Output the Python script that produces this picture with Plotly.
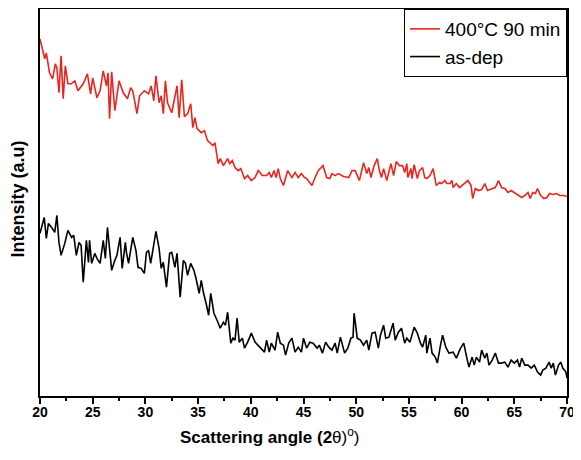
import plotly.graph_objects as go

# 400C 90 min anneal (red)
red_x = [20.0, 20.45, 20.6, 20.9, 21.2, 21.45, 21.6, 21.8, 22.0, 22.2,
         22.4, 22.65, 22.97, 23.3, 23.6, 24.1, 24.5, 24.8, 25.0, 25.4,
         25.7, 26.0, 26.3, 26.45, 26.6, 26.8, 27.1, 27.5, 27.9, 28.3,
         28.6, 28.8, 29.2, 29.45, 29.9, 30.3, 30.55, 30.8, 31.0, 31.3,
         31.5, 31.7, 31.9, 32.1, 32.5, 32.8, 33.0, 33.2, 33.45, 33.7,
         34.0, 34.3, 34.5, 34.7, 34.9, 35.3, 35.6, 35.9, 36.4, 36.6,
         36.9, 37.1, 37.4, 37.8, 38.0, 38.25, 38.5, 38.8, 39.05, 39.4,
         39.7, 40.05, 40.4, 40.7, 41.1, 41.5, 41.75, 41.95, 42.2, 42.4,
         42.6, 42.8, 43.1, 43.5, 43.9, 44.2, 44.5, 44.8, 45.1, 45.3,
         45.8, 46.1, 46.4, 46.85, 47.2, 47.5, 47.7, 48.0, 48.3, 48.8,
         49.3, 49.6, 49.9, 50.3, 50.7, 51.0, 51.2, 51.4, 51.7, 52.0,
         52.2, 52.4, 52.6, 52.9, 53.1, 53.3, 53.55, 53.8, 54.1, 54.4,
         54.6, 54.8, 54.9, 55.2, 55.3, 55.5, 55.8, 56.0, 56.3, 56.5,
         56.7, 57.0, 57.3, 57.6, 57.9, 58.1, 58.4, 58.6, 58.9, 59.1,
         59.2, 59.5, 59.8, 60.05, 60.3, 60.6, 60.9, 61.05, 61.3, 61.6,
         61.9, 62.2, 62.45, 62.85, 63.2, 63.5, 63.8, 64.1, 64.4, 64.7,
         65.1, 65.4, 65.7, 66.0, 66.3, 66.5, 66.75, 67.0, 67.2, 67.5,
         67.8, 68.1, 68.35, 68.7, 69.0, 69.3, 69.7, 70.0]
red_y = [362, 342, 348, 328, 322, 337, 333, 308, 345, 302,
         335, 317, 317, 320, 310, 317, 327, 307, 323, 303,
         310, 330, 315, 328, 282, 329, 290, 320, 308, 302,
         313, 310, 287, 305, 310, 307, 315, 300, 325, 298,
         305, 287, 320, 298, 288, 303, 315, 283, 321, 284,
         287, 297, 273, 283, 272, 268, 270, 260, 255, 258,
         237, 242, 235, 242, 237, 240, 233, 230, 232, 222,
         225, 220, 223, 230, 225, 225, 228, 223, 230, 223,
         232, 222, 215, 230, 223, 228, 223, 227, 223, 222,
         215, 223, 230, 235, 223, 222, 227, 225, 227, 224,
         223, 230, 230, 220, 238, 227, 233, 223, 235, 242,
         230, 223, 232, 220, 230, 237, 225, 239, 235, 235,
         228, 237, 223, 232, 222, 236, 222, 230, 233, 223,
         222, 225, 232, 215, 218, 217, 220, 217, 217, 220,
         213, 217, 213, 215, 217, 220, 215, 202, 212, 210,
         211, 217, 210, 212, 213, 220, 213, 212, 208, 210,
         207, 205, 203, 205, 208, 202, 208, 207, 212, 205,
         202, 203, 207, 206, 207, 205, 205, 204]

# as-deposited (black)
blk_x = [20.0, 20.2, 20.4, 20.6, 20.8, 21.1, 21.4, 21.6, 21.8, 22.0,
         22.35, 22.65, 23.0, 23.2, 23.45, 23.7, 23.9, 24.1, 24.4, 24.6,
         24.7, 24.9, 25.2, 25.4, 25.7, 26.0, 26.2, 26.4, 26.6, 26.8,
         27.1, 27.3, 27.6, 27.8, 28.1, 28.2, 28.4, 28.8, 29.1, 29.3,
         29.6, 29.9, 30.1, 30.3, 30.5, 30.7, 31.0, 31.3, 31.5, 31.7,
         32.0, 32.3, 32.5, 32.8, 33.0, 33.3, 33.6, 33.8, 34.0, 34.3,
         34.6, 34.8, 35.1, 35.3, 35.5, 35.8, 36.0, 36.2, 36.5, 36.8,
         37.1, 37.4, 37.6, 37.8, 38.1, 38.3, 38.5, 38.7, 38.9, 39.2,
         39.4, 39.7, 40.05, 40.4, 40.7, 41.0, 41.3, 41.5, 41.75, 41.95,
         42.3, 42.55, 42.8, 43.1, 43.3, 43.6, 43.9, 44.2, 44.5, 44.8,
         45.0, 45.3, 45.6, 45.9, 46.3, 46.5, 46.8, 47.1, 47.4, 47.7,
         48.0, 48.2, 48.5, 48.9, 49.2, 49.5, 49.7, 49.8, 50.1, 50.4,
         50.7, 51.0, 51.2, 51.5, 51.8, 52.1, 52.3, 52.6, 52.8, 53.1,
         53.5, 53.7, 54.0, 54.3, 54.6, 54.8, 55.1, 55.5, 55.8, 56.1,
         56.3, 56.6, 56.7, 57.0, 57.2, 57.5, 57.7, 58.0, 58.2, 58.5,
         58.8, 59.2, 59.5, 59.9, 60.2, 60.5, 60.7, 61.0, 61.2, 61.4,
         61.7, 61.9, 62.2, 62.4, 62.6, 62.9, 63.2, 63.5, 63.8, 64.1,
         64.4, 64.7, 65.0, 65.3, 65.5, 65.7, 66.0, 66.3, 66.6, 66.9,
         67.2, 67.5, 67.7, 68.0, 68.3, 68.5, 68.7, 68.9, 69.2, 69.4,
         69.6, 69.9, 70.0]
blk_y = [167, 175, 183, 162, 177, 173, 168, 185, 158, 145,
         157, 170, 163, 165, 145, 158, 155, 118, 160, 138,
         160, 137, 147, 142, 137, 160, 142, 173, 153, 130,
         140, 145, 163, 132, 158, 148, 137, 163, 150, 133,
         132, 127, 148, 150, 137, 150, 169, 152, 132, 138,
         113, 147, 148, 133, 147, 103, 140, 137, 125, 137,
         130, 122, 107, 120, 108, 95, 85, 107, 87, 80,
         72, 78, 75, 88, 57, 62, 60, 82, 58, 62,
         52, 58, 67, 58, 55, 52, 48, 60, 48, 57,
         50, 68, 57, 55, 45, 57, 62, 48, 53, 48,
         62, 52, 58, 57, 52, 55, 47, 58, 53, 50,
         57, 47, 63, 47, 52, 62, 63, 87, 62, 60,
         55, 60, 50, 67, 68, 52, 65, 75, 62, 63,
         77, 60, 68, 72, 57, 62, 58, 73, 67, 57,
         53, 65, 47, 62, 47, 43, 37, 55, 65, 53,
         47, 48, 42, 52, 57, 42, 33, 43, 35, 43,
         38, 50, 42, 47, 35, 40, 47, 37, 37, 38,
         33, 40, 37, 40, 33, 42, 35, 35, 32, 35,
         28, 25, 30, 32, 38, 32, 37, 25, 35, 38,
         32, 28, 22]

x_ticks = [20, 25, 30, 35, 40, 45, 50, 55, 60, 65, 70]

font_main = "Arial, Liberation Sans, sans-serif"

fig = go.Figure()
fig.add_trace(go.Scatter(x=red_x, y=red_y, mode='lines', name='400°C 90 min',
                         line=dict(color='#e8261f', width=1.6)))
fig.add_trace(go.Scatter(x=blk_x, y=blk_y, mode='lines', name='as-dep',
                         line=dict(color='black', width=1.6)))

# page body has an 8px margin, so the figure is sized to fit what is left
fig.update_layout(
    width=573, height=452,
    margin=dict(l=32, r=14, t=1, b=64),
    paper_bgcolor='white', plot_bgcolor='white',
    font=dict(family=font_main, color='black', size=14),
    showlegend=True,
    legend=dict(x=1, y=1, xanchor='right', yanchor='top',
                bordercolor='black', borderwidth=1, bgcolor='white',
                font=dict(size=19), tracegroupgap=0, entrywidth=150),
    xaxis=dict(
        range=[20, 70], tickvals=x_ticks, ticktext=['<b>%d</b>' % t for t in x_ticks],
        ticks='outside', ticklen=6, tickwidth=1.5, tickcolor='black',
        minor=dict(ticks='outside', ticklen=3, tickwidth=1.5, tickcolor='black',
                   tick0=22.5, dtick=5),
        showline=True, linecolor='black', linewidth=1.5, mirror=True,
        showgrid=False, zeroline=False, automargin=False,
        tickfont=dict(size=14), ticklabelstandoff=-4,
    ),
    yaxis=dict(
        range=[4, 392], showticklabels=False, ticks='',
        showline=True, linecolor='black', linewidth=1.5, mirror=True,
        showgrid=False, zeroline=False, automargin=False,
    ),
    annotations=[
        dict(text='<b>Scattering angle (2</b>θ)<sup>o</sup>)', xref='paper', yref='paper',
             x=0.262, y=-0.103, xanchor='left', yanchor='middle', showarrow=False,
             font=dict(size=17)),
        dict(text='<b>Intensity (a.u)</b>', xref='paper', yref='paper', textangle=-90,
             x=-0.042, y=0.51, xanchor='center', yanchor='middle', showarrow=False,
             font=dict(size=18)),
    ],
)

fig.write_html("out.html")
